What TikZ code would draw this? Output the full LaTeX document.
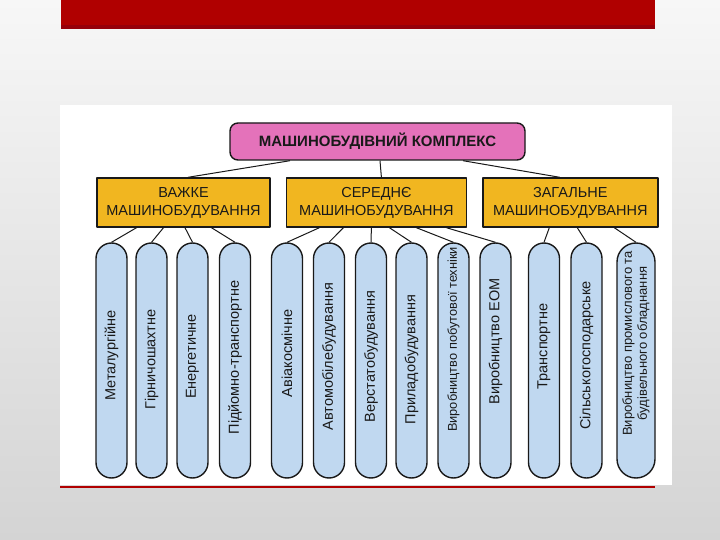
\documentclass[tikz,border=0pt]{standalone}
\usepackage{fontspec}
\setmainfont{Liberation Sans}
\usetikzlibrary{positioning}
\definecolor{slidered}{RGB}{176,0,0}
\definecolor{slidereddark}{RGB}{150,0,10}
\definecolor{bgtop}{RGB}{247,247,247}
\definecolor{bgbottom}{RGB}{212,212,212}
\definecolor{ink}{RGB}{25,25,25}
\definecolor{headpink}{RGB}{228,114,186}
\definecolor{branchorange}{RGB}{241,182,32}
\definecolor{pillblue}{RGB}{192,216,240}

\begin{document}
\begin{tikzpicture}[x=1pt, y=-1pt, line join=round,
  head/.style={draw=ink, fill=headpink, line width=1.4pt, rounded corners=8pt,
    minimum width=295pt, minimum height=37pt, text=ink, font=\fontsize{15}{17}\selectfont\bfseries},
  branch/.style={draw=ink, fill=branchorange, line width=1.4pt, minimum width=#1,
    minimum height=49pt, align=center, text=ink, font=\fontsize{14.5}{18}\selectfont},
  pill/.style={draw=ink, fill=pillblue, line width=1.4pt, minimum width=31pt,
    minimum height=235pt, rounded corners=15.5pt},
  widepill/.style={pill, minimum width=38pt, rounded corners=19pt},
  pilltext/.style={rotate=90, text=ink, align=center, font=\fontsize{14.5}{15}\selectfont},
  link/.style={draw=ink, line width=1pt}]
\useasboundingbox (0,0) rectangle (720,540);
% slide background
\shade[top color=bgtop, bottom color=bgbottom] (0,0) rectangle (720,540);
\fill[slidered] (61,0) rectangle (655,29);
\fill[slidereddark] (61,25) rectangle (655,29);
\fill[white] (60,105) rectangle (672,485);
\draw[slidered, line width=2pt] (60,487) -- (655,487);

% top level
\node[head] (mk) at (377.5,141.5) {МАШИНОБУДІВНИЙ КОМПЛЕКС};
\node[branch=173pt] (heavy) at (183.5,202.5) {ВАЖКЕ\\МАШИНОБУДУВАННЯ};
\node[branch=180pt, right=15pt of heavy] (medium) {СЕРЕДНЄ\\МАШИНОБУДУВАННЯ};
\node[branch=175pt, right=15pt of medium] (general) {ЗАГАЛЬНЕ\\МАШИНОБУДУВАННЯ};
\draw[link] ([xshift=-87.5pt]mk.south) -- ([xshift=4.5pt]heavy.north);
\draw[link] ([xshift=2.5pt]mk.south) -- ([xshift=5pt]medium.north);
\draw[link] ([xshift=85.5pt]mk.south) -- ([xshift=-10.5pt]general.north);

% heavy branches
\node[pill, label={[yshift=5pt, pilltext]center:Металургійне}] (metal) at (111.5,360.5) {};
\node[pill, label={[yshift=1pt, pilltext]center:Гірничошахтне}] (mining) at (151.5,360.5) {};
\node[pill, label={[yshift=4pt, pilltext]center:Енергетичне}] (energy) at (192.5,360.5) {};
\node[pill, label={[yshift=3pt, pilltext]center:Підйомно-транспортне}] (lifting) at (235,360.5) {};
\draw[link] ([xshift=-47pt]heavy.south) -- (metal.north);
\draw[link] ([xshift=-20pt]heavy.south) -- (mining.north);
\draw[link] ([xshift=1.5pt]heavy.south) -- (energy.north);
\draw[link] ([xshift=28pt]heavy.south) -- (lifting.north);

% medium branches
\node[pill, label={[yshift=7pt, pilltext]center:Авіакосмічне}] (aero) at (287,360.5) {};
\node[pill, label={[yshift=4pt, pilltext]center:Автомобілебудування}] (auto) at (329,360.5) {};
\node[pill, label={[yshift=4pt, pilltext]center:Верстатобудування}] (machtool) at (371,360.5) {};
\node[pill, label={[yshift=1pt, pilltext]center:Приладобудування}] (instr) at (411.5,360.5) {};
\node[pill, label={[yshift=21pt, pilltext, font=\fontsize{12.8}{14}\selectfont]center:Виробництво побутової техніки}] (household) at (453.5,360.5) {};
\node[pill, label={[yshift=19pt, pilltext]center:Виробництво ЕОМ}] (computer) at (495.5,360.5) {};
\draw[link] ([xshift=-57pt]medium.south) -- (aero.north);
\draw[link] ([xshift=-33pt]medium.south) -- (auto.north);
\draw[link] ([xshift=-5pt]medium.south) -- (machtool.north);
\draw[link] ([xshift=13pt]medium.south) -- (instr.north);
\draw[link] ([xshift=40pt]medium.south) -- (household.north);
\draw[link] ([xshift=70pt]medium.south) -- (computer.north);

% general branches
\node[pill, label={[yshift=14pt, pilltext]center:Транспортне}] (transport) at (544,360.5) {};
\node[pill, label={[yshift=5pt, pilltext]center:Сільськогосподарське}] (agri) at (586.5,360.5) {};
\node[widepill, label={[yshift=17pt, pilltext, font=\fontsize{13}{15}\selectfont]center:Виробництво промислового та\\будівельного обладнання}] (industrial) at (636,360.5) {};
\draw[link] ([xshift=-21pt]general.south) -- (transport.north);
\draw[link] ([xshift=7pt]general.south) -- (agri.north);
\draw[link] ([xshift=44pt]general.south) -- (industrial.north);
\end{tikzpicture}
\end{document}
